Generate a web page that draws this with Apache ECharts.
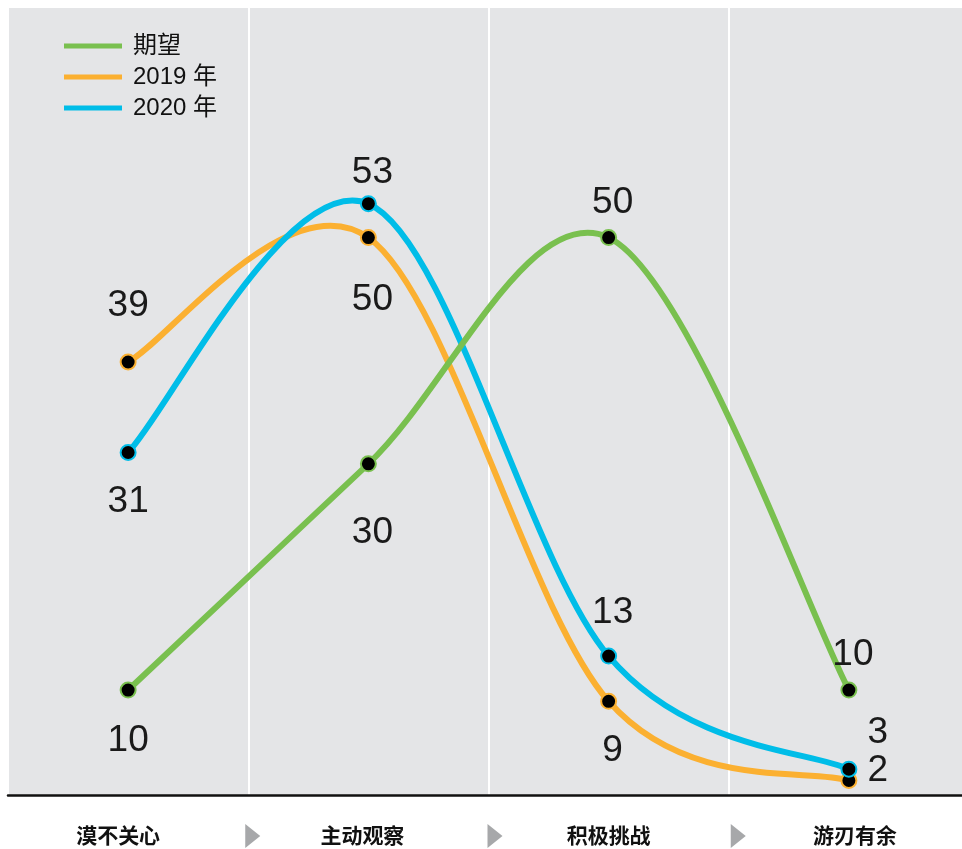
<!DOCTYPE html>
<html>
<head>
<meta charset="utf-8">
<script src="https://cdn.jsdelivr.net/npm/echarts@6/dist/echarts.min.js"></script>
<style>
  html, body { margin: 0; padding: 0; background: #ffffff; }
  #chart { width: 962px; height: 849px; }
</style>
</head>
<body>
<div id="chart"></div>
<script>
// Stages of engagement, left to right
const stages = ['漠不关心', '主动观察', '积极挑战', '游刃有余'];

// Share of respondents at each stage
const expected = [10, 30, 50, 10];
const year2019 = [39, 50, 9, 2];
const year2020 = [31, 53, 13, 3];

const seriesNames = ['期望', '2019 年', '2020 年'];
const seriesColors = ['#79c04f', '#fbb031', '#00bde8'];

// Where each value label sits around its point: [position, distance, dx, dy]
const labelPlacement = [
  [['bottom', 24, 0, 0], ['bottom', 42, 4, 0], ['top', 8, 4, 0], ['top', 8, 4, 0]],
  [['top', 29, 0, 0], ['bottom', 35, 4, 0], ['bottom', 22, 4, 0], ['right', 10, 0, -10]],
  [['bottom', 22, 0, 0], ['top', 4, 4, 0], ['top', 16, 4, 0], ['right', 10, 0, -36]]
];

// Horizontal nudge of each stage name (px) and of each arrowhead between stages
const stageLabelShift = [-10, -6, 0, 6];
const arrowShift = [-3, -1, 2];

const valueFont = '"Liberation Sans", Arial, sans-serif';
const cjkFont = '"Noto Sans CJK SC", sans-serif';
const mixedFont = '"Liberation Sans", "Noto Sans CJK SC", sans-serif';

const allValues = [expected, year2019, year2020];

function buildPointData(values, placement) {
  return values.map(function (v, i) {
    const p = placement[i];
    return {
      value: v,
      label: {
        show: true,
        position: p[0],
        distance: p[1],
        offset: [p[2], p[3]],
        formatter: '{c}',
        fontSize: 37,
        fontFamily: valueFont,
        color: '#1a1a1a'
      }
    };
  });
}

// Cardinal (Catmull-Rom) curve through the projected points, one cubic per gap
function curveRenderer(values, color) {
  return function (params, api) {
    const i = params.dataIndex;
    if (i >= values.length - 1) return null;
    const pts = values.map(function (v, k) { return api.coord([k, v]); });
    const last = pts.length - 1;
    const p0 = pts[Math.max(i - 1, 0)];
    const p1 = pts[i];
    const p2 = pts[i + 1];
    const p3 = pts[Math.min(i + 2, last)];
    return {
      type: 'bezierCurve',
      shape: {
        x1: p1[0], y1: p1[1],
        cpx1: p1[0] + (p2[0] - p0[0]) / 6,
        cpy1: p1[1] + (p2[1] - p0[1]) / 6,
        cpx2: p2[0] - (p3[0] - p1[0]) / 6,
        cpy2: p2[1] - (p3[1] - p1[1]) / 6,
        x2: p2[0], y2: p2[1]
      },
      style: { stroke: color, lineWidth: 6, fill: null, lineCap: 'round' },
      silent: true
    };
  };
}

const curveSeries = seriesNames.map(function (n, i) {
  return {
    name: n,
    type: 'custom',
    renderItem: curveRenderer(allValues[i], seriesColors[i]),
    data: allValues[i].map(function (v, k) { return [k, v]; }),
    encode: { x: 0, y: 1 },
    itemStyle: { color: seriesColors[i] },
    z: i === 0 ? 5 : (i === 2 ? 4 : 3),
    silent: true
  };
});

const pointSeries = seriesNames.map(function (n, i) {
  return {
    name: n,
    type: 'line',
    data: buildPointData(allValues[i], labelPlacement[i]),
    symbol: 'circle',
    symbolSize: 15,
    lineStyle: { width: 0, opacity: 0 },
    itemStyle: { color: '#000000', borderColor: seriesColors[i], borderWidth: 2 },
    emphasis: { disabled: true },
    z: 10
  };
});

// Rich styles that pad a centred stage name so it sits a little left or right
const stageRich = {};
stageLabelShift.forEach(function (s, i) {
  stageRich['s' + i] = {
    fontSize: 21,
    fontWeight: 'bold',
    fontFamily: cjkFont,
    color: '#111111',
    padding: s < 0 ? [0, -2 * s, 0, 0] : [0, 0, 0, 2 * s]
  };
});

const chart = echarts.init(document.getElementById('chart'), null, { renderer: 'canvas' });

chart.setOption({
  animation: false,
  backgroundColor: '#ffffff',
  grid: {
    left: 8,
    top: 8,
    width: 961,
    bottom: 54,
    outerBoundsMode: 'none',
    containLabel: false,
    show: true,
    backgroundColor: '#e4e5e7',
    borderWidth: 0
  },
  legend: {
    orient: 'vertical',
    left: 64,
    top: 34,
    padding: 0,
    itemWidth: 58,
    itemHeight: 5,
    itemGap: 7,
    icon: 'rect',
    selectedMode: false,
    textStyle: {
      fontSize: 24,
      lineHeight: 24,
      fontFamily: mixedFont,
      color: '#111111',
      padding: [0, 0, 0, 6]
    },
    data: seriesNames.map(function (n, i) {
      return { name: n, itemStyle: { color: seriesColors[i], borderWidth: 0 } };
    })
  },
  xAxis: {
    type: 'category',
    data: stages,
    boundaryGap: true,
    axisLine: { show: true, lineStyle: { color: '#111111', width: 2.5 } },
    axisTick: { show: false },
    splitLine: { show: true, lineStyle: { color: '#ffffff', width: 2 } },
    axisLabel: {
      margin: 30,
      fontSize: 21,
      fontWeight: 'bold',
      fontFamily: cjkFont,
      color: '#111111',
      formatter: function (value, index) {
        return '{s' + index + '|' + value + '}';
      },
      rich: stageRich
    }
  },
  yAxis: {
    type: 'value',
    min: 0.72,
    max: 70.3,
    show: false,
    splitLine: { show: false }
  },
  series: curveSeries.concat(pointSeries)
});

// Gray arrowheads between neighbouring stages, just under the axis
const arrows = [];
const axisY = chart.convertToPixel({ yAxisIndex: 0 }, 0.72);
for (let i = 0; i < stages.length - 1; i++) {
  const a = chart.convertToPixel({ xAxisIndex: 0 }, i);
  const b = chart.convertToPixel({ xAxisIndex: 0 }, i + 1);
  const left = (a + b) / 2 + arrowShift[i];
  const cy = axisY + 41;
  arrows.push({
    type: 'polygon',
    shape: { points: [[left, cy - 12], [left + 15, cy], [left, cy + 12]] },
    style: { fill: '#a7a8aa' },
    silent: true
  });
}
chart.setOption({ graphic: arrows });
</script>
</body>
</html>
